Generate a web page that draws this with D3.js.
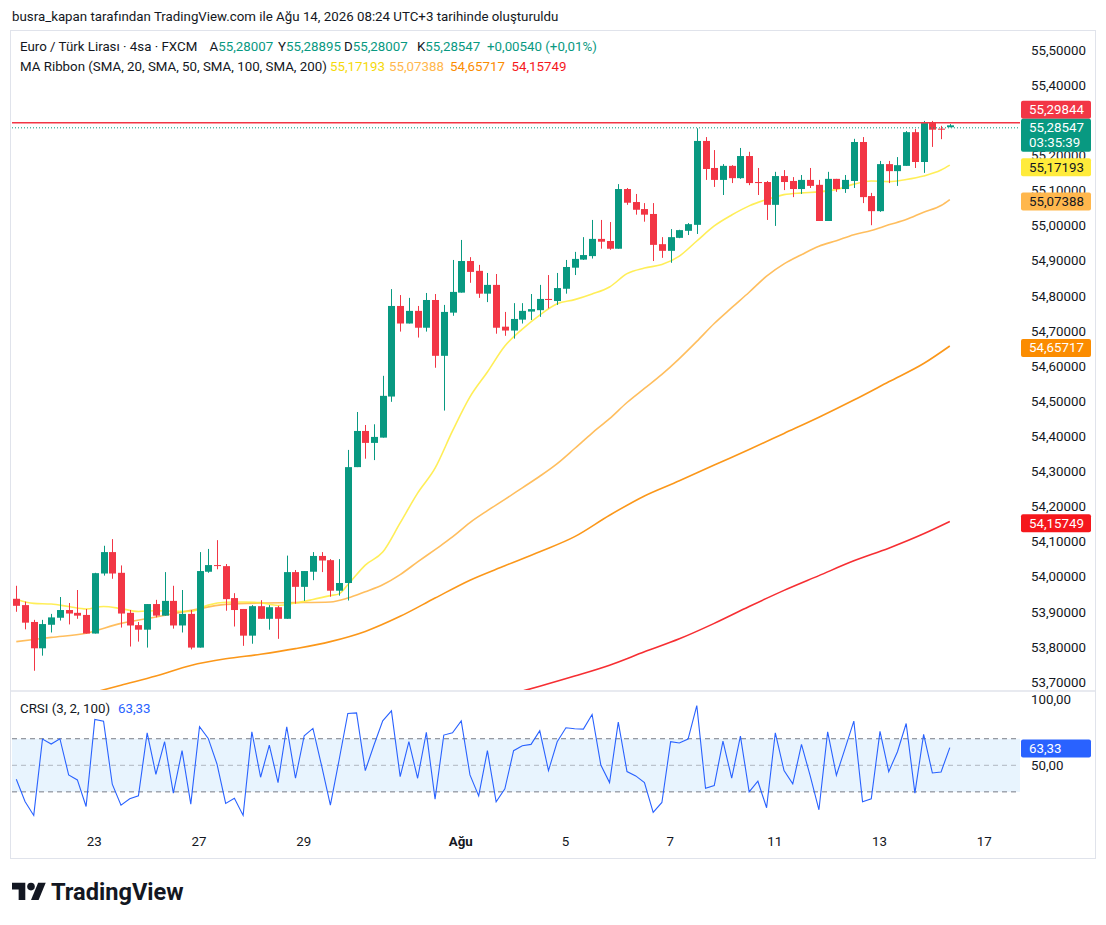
<!doctype html>
<html>
<head>
<meta charset="utf-8">
<title>EUR/TRY 4sa</title>
<script src="https://cdn.jsdelivr.net/npm/d3@7"></script>
<style>
    html, body {
        margin: 0px;
        padding: 0px;
        background: #ffffff;
    }
    svg {
        display: block;
        font-family: Roboto, "Noto Sans", sans-serif;
    }
</style>
</head>
<body>
<svg id="chart" width="1106" height="925"></svg>
<script>
// 4h candles, Jul 21 12:00 -> Aug 14 08:00 (UTC+3)
var opens = [53.937,53.919,53.871,53.796,53.863,53.883,53.905,53.897,53.891,53.838,
    54.009,54.070,54.011,53.897,53.862,53.849,53.922,53.889,53.931,53.861,
    53.894,53.798,54.014,54.033,54.030,53.939,53.908,53.832,53.916,53.880,
    53.913,53.880,54.013,53.971,54.014,54.059,54.047,53.960,53.982,54.312,
    54.415,54.381,54.396,54.513,54.771,54.721,54.757,54.709,54.788,54.629,
    54.752,54.809,54.899,54.871,54.806,54.831,54.712,54.701,54.732,54.755,
    54.759,54.791,54.785,54.820,54.880,54.903,54.913,54.962,54.956,54.934,
    55.104,55.067,55.047,55.033,54.947,54.928,54.965,54.985,55.002,55.241,
    55.164,55.130,55.170,55.135,55.198,55.124,55.124,55.059,55.141,55.127,
    55.104,55.130,55.116,55.013,55.133,55.104,55.127,55.238,55.084,55.041,
    55.175,55.155,55.170,55.266,55.181,55.292,55.276,55.28007];
var highs = [53.974,53.929,53.877,53.877,53.894,53.942,53.925,53.962,53.908,54.011,
    54.088,54.107,54.032,53.905,53.871,53.922,53.934,54.013,53.974,53.962,
    53.905,54.070,54.079,54.104,54.036,53.953,53.908,53.919,53.933,53.919,
    53.917,54.060,54.019,54.016,54.070,54.070,54.050,54.050,54.361,54.469,
    54.432,54.434,54.572,54.819,54.802,54.794,54.771,54.808,54.805,54.774,
    54.902,54.959,54.910,54.888,54.865,54.862,54.754,54.779,54.779,54.805,
    54.831,54.859,54.865,54.902,54.925,54.967,55.016,55.016,55.010,55.118,
    55.107,55.090,55.064,55.064,54.967,54.990,54.988,55.007,55.277,55.252,
    55.215,55.175,55.172,55.221,55.210,55.164,55.127,55.153,55.158,55.138,
    55.144,55.164,55.130,55.153,55.133,55.144,55.247,55.252,55.093,55.184,
    55.184,55.195,55.269,55.275,55.298,55.298,55.284,55.28895];
var lows = [53.900,53.850,53.732,53.775,53.841,53.875,53.864,53.880,53.838,53.838,
    54.003,53.994,53.855,53.801,53.815,53.798,53.884,53.889,53.852,53.841,
    53.793,53.798,54.011,54.021,53.903,53.858,53.803,53.809,53.880,53.849,
    53.823,53.880,53.923,53.931,53.990,54.013,53.943,53.946,53.932,54.312,
    54.336,54.332,54.396,54.498,54.698,54.721,54.681,54.698,54.595,54.473,
    54.743,54.809,54.837,54.794,54.782,54.692,54.686,54.678,54.721,54.731,
    54.740,54.764,54.774,54.806,54.859,54.902,54.906,54.934,54.931,54.934,
    55.059,55.031,55.011,54.899,54.908,54.894,54.964,54.973,54.976,55.130,
    55.110,55.087,55.121,55.133,55.115,55.087,55.016,54.999,55.101,55.081,
    55.090,55.107,55.013,55.013,55.096,55.093,55.107,55.064,55.001,55.039,
    55.121,55.113,55.170,55.164,55.150,55.224,55.246,55.28007];
var closes = [53.917,53.869,53.796,53.865,53.884,53.905,53.895,53.889,53.838,54.010,
    54.070,54.009,53.895,53.861,53.849,53.922,53.889,53.931,53.861,53.894,
    53.798,54.016,54.033,54.031,53.936,53.905,53.832,53.916,53.880,53.913,
    53.880,54.013,53.971,54.016,54.059,54.046,53.960,53.982,54.312,54.415,
    54.381,54.398,54.515,54.771,54.721,54.757,54.709,54.788,54.629,54.754,
    54.811,54.899,54.868,54.806,54.831,54.709,54.701,54.734,54.757,54.762,
    54.791,54.788,54.822,54.882,54.905,54.916,54.962,54.954,54.934,55.104,
    55.065,55.045,55.031,54.945,54.928,54.967,54.987,55.004,55.241,55.161,
    55.130,55.170,55.135,55.198,55.121,55.121,55.059,55.141,55.124,55.104,
    55.130,55.113,55.013,55.133,55.104,55.130,55.238,55.081,55.041,55.175,
    55.155,55.172,55.266,55.181,55.292,55.273,55.273,55.28547];

// MA ribbon at these bar indexes
var sma20Idx = [0,2,4,6,8,10,12,14,16,18,20,22,24,26,28,30,32,34,36,37,38,40,42,44,46,48,50,52,54,56,
    58,60,62,64,66,68,70,72,74,76,78,80,82,84,86,88,90,92,94,96,98,100,102,104,106,107];
var sma20 = [53.936,53.924,53.922,53.915,53.908,53.915,53.909,53.901,53.903,53.902,
    53.901,53.919,53.927,53.928,53.926,53.918,53.925,53.935,53.946,53.951,
    53.977,54.033,54.070,54.153,54.238,54.309,54.415,54.512,54.583,54.657,
    54.705,54.745,54.777,54.789,54.805,54.825,54.863,54.879,54.889,54.913,
    54.956,54.999,55.030,55.056,55.074,55.088,55.093,55.096,55.103,55.118,
    55.127,55.125,55.131,55.141,55.158,55.172];
var sma50Idx = [0,4,8,12,16,20,24,28,32,36,38,40,42,44,46,48,50,52,54,56,58,60,62,64,66,68,70,72,74,76,
    78,80,82,84,86,88,90,92,94,96,98,100,102,104,106,107];
var sma50 = [53.815,53.827,53.839,53.867,53.885,53.904,53.921,53.925,53.926,53.928,
    53.939,53.957,53.977,54.006,54.042,54.077,54.113,54.154,54.188,54.220,
    54.253,54.286,54.322,54.365,54.409,54.450,54.496,54.536,54.576,54.621,
    54.670,54.721,54.766,54.810,54.856,54.891,54.917,54.941,54.957,54.974,
    54.986,55.002,55.017,55.038,55.057,55.074];
var sma100Idx = [9,12,16,20,24,28,32,36,40,44,48,52,56,60,64,68,72,76,80,84,88,92,96,100,104,107];
var sma100 = [53.671,53.691,53.717,53.747,53.766,53.779,53.795,53.815,53.844,53.887,
    53.939,53.990,54.031,54.071,54.114,54.175,54.230,54.273,54.318,54.362,
    54.408,54.454,54.503,54.555,54.607,54.657];
var sma200Idx = [58,60,64,68,72,76,80,84,88,92,96,100,104,107];
var sma200 = [53.674,53.688,53.717,53.748,53.786,53.823,53.867,53.915,53.961,54.003,
    54.045,54.081,54.122,54.157];

var crsi = [39.5,22.75,12.25,69.75,66,70,42.75,39,19,84.5,
    83.25,35.75,20,24.75,27,74.5,43.25,67.75,29,61,
    20.75,79,70.25,51,21.25,25.25,12.25,75.25,41,65.25,
    37,79,40.25,72.25,77.75,49.5,20,54,89,89.5,
    46,65.25,83.5,91,41.5,67.75,40.25,74.75,24.5,72.75,
    74.5,83.5,42.75,27,61,22.5,32.25,61,64.75,65.75,
    76,46,67.75,78.25,77.5,77.25,88.25,50.25,37,82.5,
    45.25,42,37,14.5,22,67.75,66.75,69.75,95,32.75,
    34.75,68.25,40.25,72,30,38,18,74.5,46,36,
    65.75,42,16.5,75.25,42.5,62.75,83.25,22.5,24.75,75.5,
    45.25,60.25,81.5,29,73.25,44.25,45,63.33];

// 55,30000 sits under the price labels in the picture, so it is left out
var priceTicks = [53.7,53.8,53.9,54.0,54.1,54.2,54.3,54.4,54.5,54.6,54.7,54.8,54.9,55.0,55.1,55.2,55.4,55.5];
var crsiTicks = [50, 100];
var timeIdx = [9, 21, 33, 51, 63, 75, 87, 99, 111];
var timeLabels = ['23', '27', '29', 'Ağu', '5', '7', '11', '13', '17'];

var maLast = [55.17193, 55.07388, 54.65717, 54.15749];
var maColors = ['#ffeb3b', '#ffb74d', '#fb8c00', '#f5171c'];
var hiLine = 55.29844;
var lastPrice = 55.28547;
var lastCrsi = 63.33;

var upColor = '#089981', downColor = '#f23645', textColor = '#131722';
var fs = 13.3;

var loc = d3.formatLocale({decimal: ',', thousands: '.', grouping: [3], currency: ['', '']});
var f5 = loc.format('.5f'), f2 = loc.format('.2f');

var svg = d3.select('#chart');
var plotLeft = 12, plotRight = 1020, mainTop = 31, mainBottom = 690, crsiTop = 692, crsiBottom = 830;

var x = d3.scaleLinear().domain([0, 107]).range([16.3, 949.8]);
var y = d3.scaleLinear().domain([53.7, 55.5]).range([682, 50]);
var yc = d3.scaleLinear().domain([0, 100]).range([831.7, 698.9]);

// frame
svg.append('text').attr('x', 12).attr('y', 16.5).attr('dominant-baseline', 'central')
    .attr('font-size', fs).attr('fill', textColor)
    .text('busra_kapan tarafından TradingView.com ile Ağu 14, 2026 08:24 UTC+3 tarihinde oluşturuldu');
svg.append('rect').attr('x', 10.5).attr('y', 30.5).attr('width', 1085).attr('height', 828)
    .attr('fill', 'none').attr('stroke', '#e0e3eb');
svg.append('line').attr('x1', 11).attr('x2', 1095).attr('y1', 691).attr('y2', 691)
    .attr('stroke', '#e0e3eb').attr('stroke-width', 1.5);

var defs = svg.append('defs');
defs.append('clipPath').attr('id', 'clipMain').append('rect')
    .attr('x', plotLeft).attr('y', mainTop).attr('width', plotRight - plotLeft).attr('height', mainBottom - mainTop);
defs.append('clipPath').attr('id', 'clipCrsi').append('rect')
    .attr('x', plotLeft).attr('y', crsiTop).attr('width', plotRight - plotLeft).attr('height', crsiBottom - crsiTop);

var main = svg.append('g').attr('clip-path', 'url(#clipMain)');

// MA ribbon
var maLine = d3.line()
    .x(function(d) { return x(d[0]); })
    .y(function(d) { return y(d[1]); })
    .curve(d3.curveMonotoneX);
var maSets = [[sma200Idx, sma200], [sma100Idx, sma100], [sma50Idx, sma50], [sma20Idx, sma20]];
var maSetColors = [maColors[3], maColors[2], maColors[1], maColors[0]];
maSets.forEach(function(s, k) {
    main.append('path')
        .datum(d3.zip(s[0], s[1]))
        .attr('fill', 'none')
        .attr('stroke', maSetColors[k])
        .attr('stroke-width', 1.6)
        .attr('stroke-opacity', k == 3 ? 0.85 : 0.9)
        .attr('d', maLine);
});

// candles
var bars = d3.range(opens.length).map(function(i) {
    return {i: i, o: opens[i], h: highs[i], l: lows[i], c: closes[i]};
});
var candle = main.selectAll('g.candle').data(bars).enter().append('g').attr('class', 'candle');
candle.append('line')
    .attr('x1', function(d) { return Math.round(x(d.i)) + 0.5; })
    .attr('x2', function(d) { return Math.round(x(d.i)) + 0.5; })
    .attr('y1', function(d) { return y(d.h); })
    .attr('y2', function(d) { return y(d.l); })
    .attr('stroke', function(d) { return d.c >= d.o ? upColor : downColor; })
    .attr('stroke-width', 1);
candle.append('rect')
    .attr('x', function(d) { return Math.round(x(d.i)) - 3; })
    .attr('width', 7)
    .attr('y', function(d) { return y(Math.max(d.o, d.c)); })
    .attr('height', function(d) { return Math.max(1, Math.abs(y(d.o) - y(d.c))); })
    .attr('fill', function(d) { return d.c >= d.o ? upColor : downColor; });

// high line and last price line
main.append('line').attr('x1', plotLeft).attr('x2', plotRight)
    .attr('y1', y(hiLine) + 2).attr('y2', y(hiLine) + 2)
    .attr('stroke', downColor).attr('stroke-width', 1.5);
main.append('line').attr('x1', plotLeft).attr('x2', plotRight)
    .attr('y1', y(lastPrice) + 2.5).attr('y2', y(lastPrice) + 2.5)
    .attr('stroke', upColor).attr('stroke-width', 1).attr('stroke-dasharray', '1,2');

// legend
var leg1 = svg.append('g').attr('font-size', fs).attr('dominant-baseline', 'central');
leg1.append('text').attr('x', 20).attr('y', 46).attr('fill', textColor).text('Euro / Türk Lirası · 4sa · FXCM');
var ohlcKeys = ['A', 'Y', 'D', 'K'];
var last = opens.length - 1;
var ohlcVals = [opens[last], highs[last], lows[last], closes[last]];
var ohlcX = [209.5, 278, 344, 417];
ohlcKeys.forEach(function(k, j) {
    var t = leg1.append('text').attr('x', ohlcX[j]).attr('y', 46);
    t.append('tspan').attr('fill', textColor).text(k);
    t.append('tspan').attr('fill', upColor).text(f5(ohlcVals[j]));
});
// change against the previous close (equal to this bar's open)
var chg = closes[last] - opens[last];
leg1.append('text').attr('x', 487).attr('y', 46).attr('fill', upColor)
    .text('+' + f5(chg) + ' (+' + f2(chg / opens[last] * 100) + '%)');
leg1.append('text').attr('x', 20).attr('y', 66).attr('fill', textColor).text('MA Ribbon (SMA, 20, SMA, 50, SMA, 100, SMA, 200)');
var maLegX = [330, 389, 450, 511.5];
var maLegColors = ['#f5d90a', '#ffb74d', '#fb8c00', '#f5171c'];
maLast.forEach(function(v, j) {
    leg1.append('text').attr('x', maLegX[j]).attr('y', 66).attr('fill', maLegColors[j]).text(f5(v));
});

// price axis
var yAxisG = svg.append('g').attr('transform', 'translate(1031,0)')
    .call(d3.axisRight(y).tickValues(priceTicks).tickFormat(f5).tickSize(0).tickPadding(0));
yAxisG.select('.domain').remove();
yAxisG.selectAll('text').attr('font-size', fs).attr('fill', textColor).attr('font-family', 'Roboto, sans-serif');

// label boxes on the price scale
function box(yTop, h, fill, lines, txtColor) {
    var g = svg.append('g');
    g.append('rect').attr('x', 1021).attr('y', yTop).attr('width', 70).attr('height', h)
        .attr('rx', 2).attr('fill', fill);
    lines.forEach(function(s, j) {
        g.append('text').attr('x', 1029).attr('y', yTop + 9 + j * 15).attr('dominant-baseline', 'central')
            .attr('font-size', fs).attr('fill', txtColor).text(s);
    });
}
box(y(hiLine) - 20, 18, downColor, [f5(hiLine)], '#ffffff');
box(y(lastPrice) - 6.5, 33, upColor, [f5(lastPrice), '03:35:39'], '#ffffff');
var maTxt = [textColor, textColor, '#ffffff', '#ffffff'];
maLast.forEach(function(v, j) {
    box(y(v) + 2 - 9, 18, maColors[j], [f5(v)], maTxt[j]);
});

// CRSI pane
var pane = svg.append('g').attr('clip-path', 'url(#clipCrsi)');
pane.append('rect').attr('x', plotLeft).attr('width', plotRight - plotLeft)
    .attr('y', yc(70)).attr('height', yc(30) - yc(70))
    .attr('fill', '#2196f3').attr('fill-opacity', 0.1);
[70, 50, 30].forEach(function(v) {
    pane.append('line').attr('x1', plotLeft).attr('x2', plotRight)
        .attr('y1', yc(v)).attr('y2', yc(v))
        .attr('stroke', '#787b86').attr('stroke-opacity', v == 50 ? 0.5 : 1)
        .attr('stroke-dasharray', '5,4');
});
pane.append('path')
    .datum(crsi)
    .attr('fill', 'none')
    .attr('stroke', '#2962ff')
    .attr('stroke-width', 1.1)
    .attr('d', d3.line().x(function(d, i) { return x(i); }).y(function(d) { return yc(d); }));

var cl = svg.append('text').attr('x', 20).attr('y', 708).attr('dominant-baseline', 'central').attr('font-size', fs);
cl.append('tspan').attr('fill', textColor).text('CRSI (3, 2, 100)');
cl.append('tspan').attr('fill', '#2962ff').attr('dx', 8).text(f2(lastCrsi));

var cAxisG = svg.append('g').attr('transform', 'translate(1031,0)')
    .call(d3.axisRight(yc).tickValues(crsiTicks).tickFormat(f2).tickSize(0).tickPadding(0));
cAxisG.select('.domain').remove();
cAxisG.selectAll('text').attr('font-size', fs).attr('fill', textColor).attr('font-family', 'Roboto, sans-serif');
box(yc(lastCrsi) - 8, 18, '#2962ff', [f2(lastCrsi)], '#ffffff');

// time axis
var xAxisG = svg.append('g').attr('transform', 'translate(-1,837)')
    .call(d3.axisBottom(x).tickValues(timeIdx).tickFormat(function(d, i) { return timeLabels[i]; })
        .tickSize(0).tickPadding(0));
xAxisG.select('.domain').remove();
xAxisG.selectAll('text').attr('font-size', fs).attr('fill', textColor).attr('font-family', 'Roboto, sans-serif')
    .attr('font-weight', function(d, i) { return timeLabels[i] == 'Ağu' ? 'bold' : 'normal'; });

// TradingView logo
var logo = svg.append('g').attr('transform', 'translate(12,879) scale(0.95)').attr('fill', '#131722');
logo.append('path').attr('d', 'M14 22H7V11H0V4h14v18z');
logo.append('path').attr('d', 'M28 22h-8l7.5-18h8L28 22z');
logo.append('circle').attr('cx', 20).attr('cy', 8).attr('r', 4);
svg.append('text').attr('x', 51).attr('y', 892).attr('dominant-baseline', 'central')
    .attr('font-size', 23.6).attr('font-weight', 'bold').attr('fill', '#131722').text('TradingView');
</script>
</body>
</html>
